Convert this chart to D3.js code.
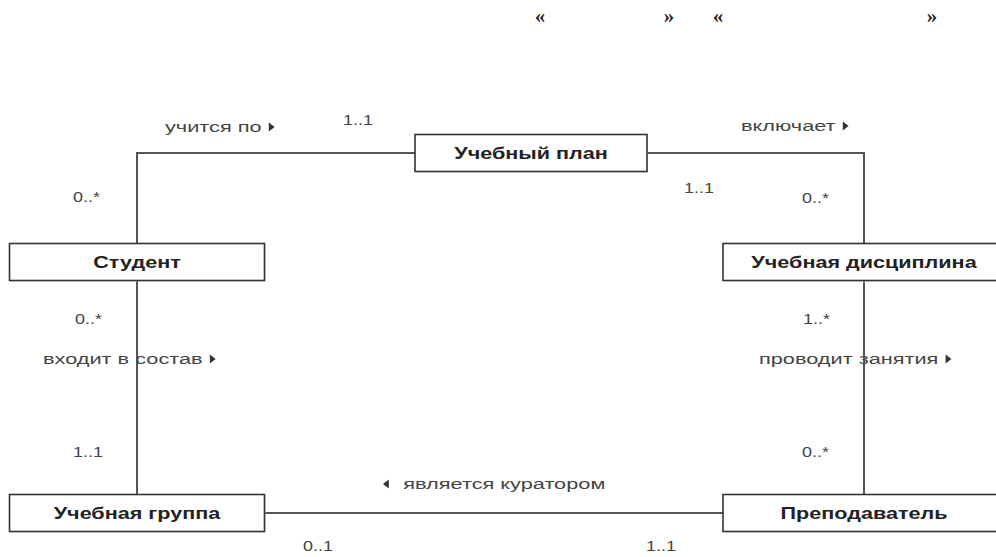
<!DOCTYPE html>
<html>
<head>
<meta charset="utf-8">
<script src="https://cdn.jsdelivr.net/npm/d3@7"></script>
<style>
body { margin: 0; background: #fff; }
text { font-family: "Liberation Sans", Arial, sans-serif; }
</style>
</head>
<body>
<svg id="chart" width="996" height="557"></svg>
<script>
// classes of the diagram
var classNames = ["Учебный план", "Студент", "Учебная дисциплина", "Учебная группа", "Преподаватель"];
var classColumn = ["mid", "left", "right", "left", "right"];
var classRow = ["top", "middle", "middle", "bottom", "bottom"];

// associations between classes (index into classNames)
var assocFrom = [1, 0, 1, 2, 3];
var assocTo = [0, 2, 3, 4, 4];
var assocNames = ["учится по", "включает", "входит в состав", "проводит занятия", "является куратором"];
var assocDirection = ["right", "right", "right", "right", "left"];
var multFrom = ["0..*", "1..1", "0..*", "1..*", "0..1"];
var multTo = ["1..1", "0..*", "1..1", "0..*", "1..1"];

// stereotype brackets left at the top of the page
var stereoMarks = ["«", "»", "«", "»"];

// ---- layout ----
var x = d3.scaleOrdinal().domain(["left", "mid", "right"]).range([137, 531, 864]);
var y = d3.scaleOrdinal().domain(["top", "middle", "bottom"]).range([153, 262, 513]);
var boxW = d3.scaleOrdinal().domain(["left", "mid", "right"]).range([255, 232, 282]);
var boxH = 37;

// label anchors (left edge, vertical centre) for each association
var labelPos = [[165, 127], [741, 126], [43, 359], [759, 359], [383, 484]];
var multFromPos = [[73, 197], [684, 188], [75, 319], [803, 319], [303, 546]];
var multToPos = [[343, 120], [802, 198], [73, 452], [802, 452], [646, 546]];
var stereoPos = [[540, 17], [669, 17], [718, 17], [932, 17]];

// the scanned picture is wider than the fonts we have
var stretchName = 1.35, stretchLabel = 1.45, stretchMult = 1.2;

var svg = d3.select("#chart");

var boxes = classNames.map(function(name, i) {
	var cx = x(classColumn[i]), cy = y(classRow[i]), w = boxW(classColumn[i]);
	return { name: name, cx: cx, cy: cy, x0: cx - w / 2, x1: cx + w / 2, y0: cy - boxH / 2, y1: cy + boxH / 2 };
});

var linkPath = function(a, b) {
	if (a.cx == b.cx) {
		var top = a.cy < b.cy ? a : b, bot = a.cy < b.cy ? b : a;
		return "M" + top.cx + "," + top.y1 + "V" + bot.y0;
	}
	if (a.cy == b.cy) {
		var l = a.cx < b.cx ? a : b, r = a.cx < b.cx ? b : a;
		return "M" + l.x1 + "," + l.cy + "H" + r.x0;
	}
	// elbow: go up from the lower box, then across to the upper one
	var lower = a.cy > b.cy ? a : b, upper = a.cy > b.cy ? b : a;
	var edge = lower.cx < upper.cx ? upper.x0 : upper.x1;
	return "M" + lower.cx + "," + lower.y0 + "V" + upper.cy + "H" + edge;
};

svg.append("g")
	.selectAll("path")
	.data(assocNames)
	.enter()
	.append("path")
	.attr("d", function(d, i) { return linkPath(boxes[assocFrom[i]], boxes[assocTo[i]]); })
	.attr("fill", "none")
	.attr("stroke", "#555")
	.attr("stroke-width", 2);

var boxG = svg.append("g")
	.selectAll("g")
	.data(boxes)
	.enter()
	.append("g");

boxG.append("rect")
	.attr("x", function(d) { return d.x0 + 1; })
	.attr("y", function(d) { return d.y0 + 1; })
	.attr("width", function(d) { return d.x1 - d.x0; })
	.attr("height", boxH)
	.attr("fill", "#ddd");

boxG.append("rect")
	.attr("x", function(d) { return d.x0; })
	.attr("y", function(d) { return d.y0; })
	.attr("width", function(d) { return d.x1 - d.x0; })
	.attr("height", boxH)
	.attr("fill", "#fff")
	.attr("stroke", "#333")
	.attr("stroke-width", 1.6);

boxG.append("g")
	.attr("transform", function(d) { return "translate(" + d.cx + "," + d.cy + ") scale(" + stretchName + ",1)"; })
	.append("text")
	.attr("text-anchor", "middle")
	.attr("dy", "0.36em")
	.attr("font-size", 16)
	.attr("font-weight", "bold")
	.attr("fill", "#222")
	.text(function(d) { return d.name; });

var addText = function(pos, str, opts) {
	var g = svg.append("g")
		.attr("transform", "translate(" + pos[0] + "," + pos[1] + ") scale(" + opts.stretch + ",1)");
	var t = g.append("text")
		.attr("dy", "0.36em")
		.attr("font-size", opts.size)
		.attr("fill", opts.color)
		.text(str);
	if (opts.font) t.style("font-family", opts.font);
	if (opts.weight) t.attr("font-weight", opts.weight);
	return { g: g, t: t };
};

var triangle = function(g, x0, dir) {
	var p = dir == "right"
		? [[x0, -4.5], [x0 + 4, 0], [x0, 4.5]]
		: [[x0 + 4, -4.5], [x0, 0], [x0 + 4, 4.5]];
	g.append("path")
		.attr("d", "M" + p.join("L") + "Z")
		.attr("fill", "#333");
};

assocNames.forEach(function(name, i) {
	var r = addText(labelPos[i], name, { size: 15, color: "#444", stretch: stretchLabel });
	if (assocDirection[i] == "left") {
		r.t.attr("x", 14);
		triangle(r.g, 0, "left");
	} else {
		var len = r.t.node().getComputedTextLength();
		triangle(r.g, len + 5, "right");
	}
	addText(multFromPos[i], multFrom[i], { size: 15, color: "#444", stretch: stretchMult });
	addText(multToPos[i], multTo[i], { size: 15, color: "#444", stretch: stretchMult });
});

stereoMarks.forEach(function(m, i) {
	addText(stereoPos[i], m, { size: 21, color: "#222", font: "Liberation Serif", stretch: 1, weight: "bold" })
		.t.attr("text-anchor", "middle").attr("dy", "0.3em");
});
</script>
</body>
</html>
